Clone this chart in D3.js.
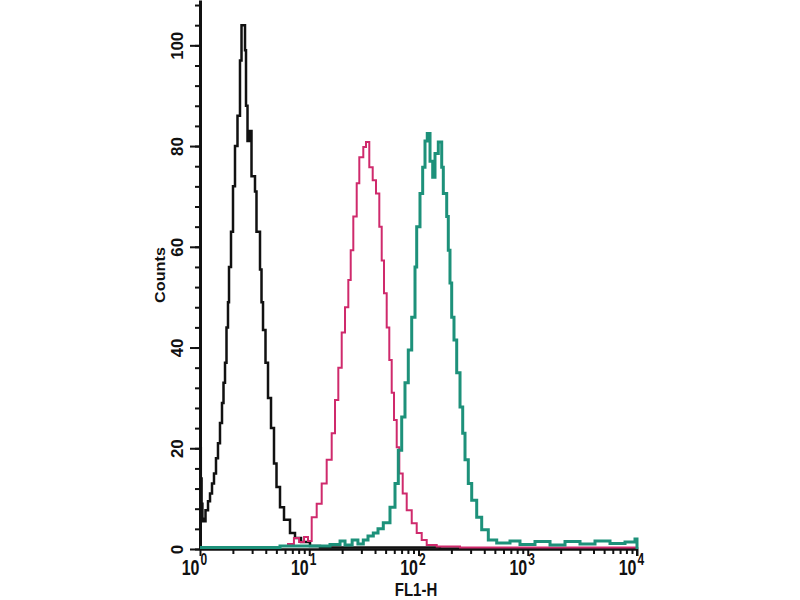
<!DOCTYPE html>
<html>
<head>
<meta charset="utf-8">
<script src="https://cdn.jsdelivr.net/npm/d3@7"></script>
<style>
  body { margin: 0; background: #fff; }
  text { font-family: "Liberation Sans", Arial, sans-serif; font-weight: bold; fill: #111; }
</style>
</head>
<body>
<div id="histo"></div>
<script>
// FL1-H values (channel positions) and counts
const isoFL = [1, 1.017, 1.034, 1.052, 1.065, 1.123, 1.184, 1.235, 1.288, 1.343, 1.401, 1.461, 1.524, 1.59, 1.641,
  1.694, 1.748, 1.804, 1.843, 1.922, 2.005, 2.091, 2.204, 2.323, 2.399, 2.582, 2.637, 2.722, 2.809, 2.961, 3.187,
  3.289, 3.542, 3.656, 3.774, 3.977, 4.193, 4.466, 4.757, 5.015, 5.399, 5.874, 6.665, 7.405, 8.405, 10.16, 12.54,
  157, 10000];
const isoCount = [20, 14, 9, 6, 5.5, 7.7, 9.5, 11, 13, 15, 18, 21, 25, 29, 33,
  37, 44, 49, 56, 63, 72, 80, 86, 97, 104, 99, 88, 81, 83, 74, 71,
  63, 55.5, 49, 43.5, 37, 30, 24, 17, 12.3, 8.3, 5.8, 3.2, 2.2, 1.4, 0.6, 0.3,
  0.1, 0];

const pinkFL = [6.26, 7.24, 8.07, 8.96, 9.74, 10.53, 11.7, 13.0, 14.44, 16.05, 17.21, 18.45, 19.82, 21.25, 22.78,
  23.96, 25.31, 27.19, 28.72, 31.24, 33.07, 35.45, 38.09, 40.83, 43.78, 46.05, 48.33, 51.16, 54.04, 56.85, 59.68,
  63.18, 66.74, 71.69, 78.0, 86.7, 96.3, 107, 118.9, 146.8, 239.9, 10000];
const pinkCount = [1.0, 2.2, 1.4, 2.4, 1.6, 6.3, 9, 13, 17.7, 23, 29.6, 36, 43, 48, 53.4,
  59.3, 66, 72.6, 77.8, 79.8, 80.8, 75.8, 73.2, 70.6, 64, 57.3, 50.8, 44, 37.5, 31, 25.6,
  20.2, 15, 11, 7.7, 5.1, 3.2, 1.8, 0.8, 0.5, 0.3, 0];

const tealFL = [1, 5.4, 15.49, 19.14, 21.25, 24.7, 27.9, 31.24, 34.5, 38.58, 42.6, 47.62, 54.84, 60.95, 65.34,
  70.19, 75.22, 80.64, 86.67, 92.9, 96.27, 103.2, 109.2, 114.7, 120.3, 127.5, 134.9, 141.6, 151.8, 163.1, 168.7,
  181.2, 187.4, 194.2, 201.3, 211.3, 223.7, 239.9, 253.9, 266.5, 285.6, 306.9, 341, 378.8, 435.5, 519.8, 688,
  849, 1165, 1599, 2193, 3008, 4127, 5661, 7768, 9587, 10000];
const tealCount = [0.3, 0.6, 0.9, 1.6, 0.8, 1.8, 1.0, 1.8, 2.6, 3.2, 4.0, 5.2, 8.3, 13, 19.6,
  26.2, 33, 39.5, 46, 56, 64, 70.6, 75.8, 81, 82.5, 77, 73.8, 78.5, 80.8, 75.8, 70.6,
  66, 59.3, 52.8, 46, 41.5, 35, 28.2, 23, 17.7, 13, 9.7, 6.3, 3.8, 1.8, 1.2, 1.6,
  0.9, 1.5, 0.8, 1.5, 1.0, 1.6, 1.1, 1.4, 2.0, 0];

const yMajorTicks = [0, 20, 40, 60, 80, 100];
const yMinorTicks = d3.range(0, 109, 4);
const xDecades = [1, 10, 100, 1000, 10000];
const xExponents = ["0", "1", "2", "3", "4"];
const xMinorTicks = [1, 10, 100, 1000].flatMap(d => d3.range(2, 10).map(k => k * d));

let width = 800,
  height = 600;

let svg = d3.select("#histo")
  .append("svg")
  .attr("width", width)
  .attr("height", height);

svg.append("rect").attr("width", width).attr("height", height).attr("fill", "#fff");

let x = d3.scaleLog()
  .domain([1, 10000])
  .range([200, 637]);

let y = d3.scaleLinear()
  .domain([0, 109])
  .range([549, 0]);

// y axis: minor ticks then major ticks with rotated labels
svg.append("g")
  .attr("transform", "translate(200,0)")
  .call(d3.axisLeft(y).tickValues(yMinorTicks).tickSize(5).tickFormat(""))
  .call(g => g.select(".domain").remove())
  .call(g => g.selectAll("line").attr("stroke", "#111").attr("stroke-width", 2));

let yAxis = svg.append("g")
  .attr("transform", "translate(200,0)")
  .call(d3.axisLeft(y).tickValues(yMajorTicks).tickSize(10).tickSizeOuter(0));

yAxis.select(".domain").attr("stroke", "#111").attr("stroke-width", 3);
yAxis.selectAll("line").attr("stroke", "#111").attr("stroke-width", 2);
yAxis.selectAll("text")
  .attr("x", 0)
  .attr("dy", 0)
  .attr("text-anchor", "middle")
  .attr("transform", "translate(-17,0) rotate(-90) scale(1.05,1)")
  .style("font-size", "16px")
  .style("font-family", "'Liberation Sans', Arial, sans-serif")
  .style("font-weight", "bold")
  .attr("fill", "#111");

// x axis
svg.append("g")
  .attr("transform", "translate(0,549)")
  .call(d3.axisBottom(x).tickValues(xMinorTicks).tickSize(5).tickFormat(""))
  .call(g => g.select(".domain").remove())
  .call(g => g.selectAll("line").attr("stroke", "#111").attr("stroke-width", 2));

let xAxis = svg.append("g")
  .attr("transform", "translate(0,549)")
  .call(d3.axisBottom(x).tickValues(xDecades).tickSize(7).tickSizeOuter(0).tickFormat(""));

xAxis.select(".domain").attr("stroke", "#111").attr("stroke-width", 2.5);
xAxis.selectAll("line").attr("stroke", "#111").attr("stroke-width", 2);

// end tick at 10^4 reaching above the axis
svg.append("line")
  .attr("x1", x(10000)).attr("x2", x(10000))
  .attr("y1", y(1.8)).attr("y2", 556)
  .attr("stroke", "#111").attr("stroke-width", 2);

let labels = svg.append("g");
labels.selectAll(".base")
  .data(xDecades)
  .join("text")
  .attr("class", "base")
  .attr("text-anchor", "end")
  .attr("transform", d => `translate(${x(d) - 0.5},575) scale(1,1.4)`)
  .style("font-size", "16px")
  .text("10");

labels.selectAll(".exp")
  .data(xDecades)
  .join("text")
  .attr("class", "exp")
  .attr("text-anchor", "start")
  .attr("transform", d => `translate(${x(d) + 0.5},565) scale(1,1.35)`)
  .style("font-size", "12px")
  .text((d, i) => xExponents[i]);

// axis titles
svg.append("text")
  .attr("text-anchor", "middle")
  .attr("transform", "translate(416,596) scale(1,1.25)")
  .style("font-size", "15px")
  .text("FL1-H");

svg.append("text")
  .attr("text-anchor", "middle")
  .attr("transform", "translate(165,275) rotate(-90) scale(1.08,1)")
  .style("font-size", "15px")
  .text("Counts");

// histograms
let line = d3.line()
  .x(d => x(d[0]))
  .y(d => y(d[1]))
  .curve(d3.curveStepAfter);

let series = [
  { fl: isoFL, count: isoCount, color: "#111", w: 2.5 },
  { fl: pinkFL, count: pinkCount, color: "#cf2a6c", w: 2 },
  { fl: tealFL, count: tealCount, color: "#1d917a", w: 3 }
];

svg.append("g")
  .selectAll("path")
  .data(series)
  .join("path")
  .attr("fill", "none")
  .attr("stroke", d => d.color)
  .attr("stroke-width", d => d.w)
  .attr("stroke-linejoin", "miter")
  .attr("d", d => line(d.fl.map((v, i) => [v, d.count[i]])));
</script>
</body>
</html>
